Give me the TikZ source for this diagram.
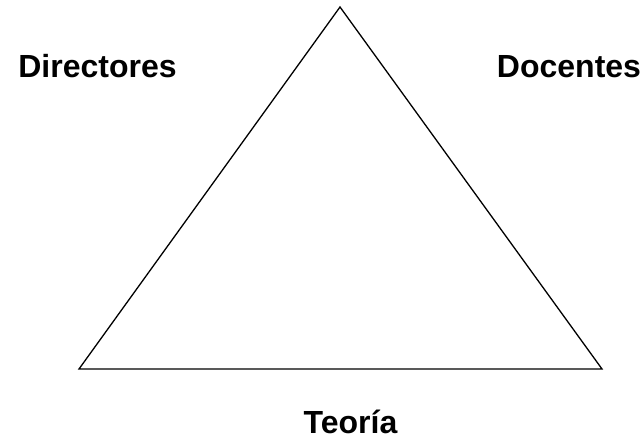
\documentclass[tikz,border=0pt]{standalone}
\usepackage{fontspec}
\setmainfont{Liberation Sans}
\begin{document}
\begin{tikzpicture}[x=1pt,y=-1pt]
\tikzset{
  label text/.style={font=\fontsize{32}{38}\selectfont\bfseries, anchor=base, inner sep=0pt},
  side/.style={line width=1.3pt, line join=miter}
}

\useasboundingbox (0,0) rectangle (642,439);

% corners of the triangle
\coordinate (top) at (340,7);
\coordinate (left) at (79,369);
\coordinate (right) at (602,369);

\draw[side] (left) -- (top) -- (right) -- cycle;

\node[label text] (directores) at (97.5,77.5) {Directores};
\node[label text] (docentes) at (569,77.5) {Docentes};
\node[label text] (teoria) at (350.5,433) {Teoría};

\end{tikzpicture}
\end{document}
